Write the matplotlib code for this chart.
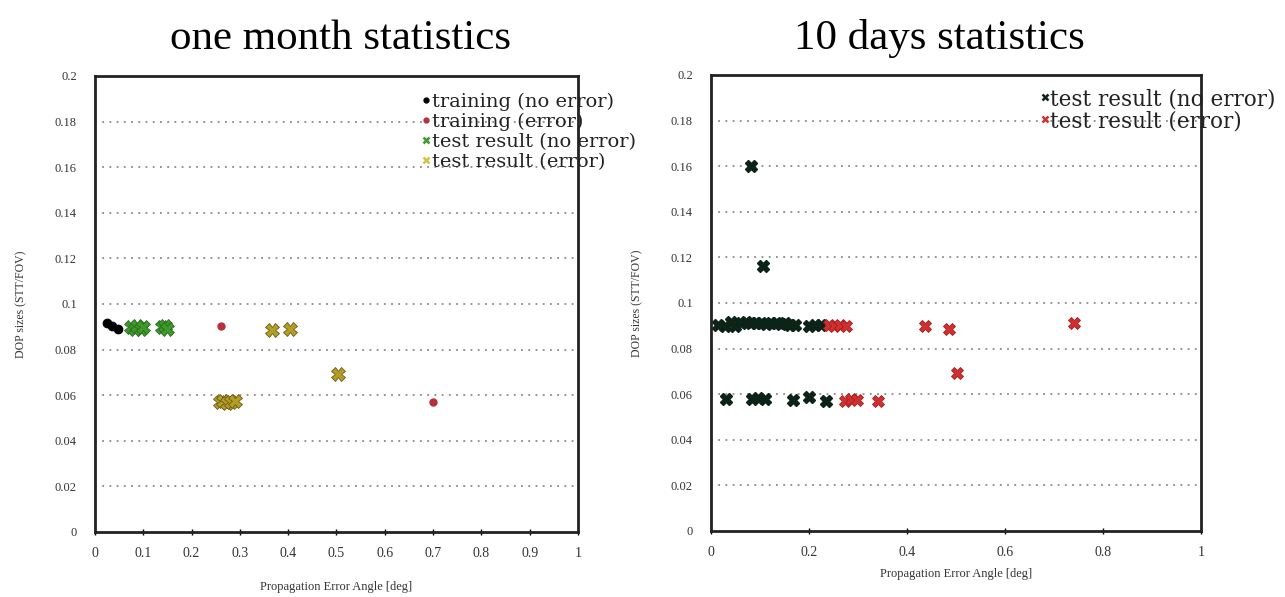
import matplotlib
matplotlib.use('Agg')
import matplotlib.pyplot as plt
from matplotlib.lines import Line2D

plt.rcParams['font.family'] = ['Liberation Serif', 'DejaVu Serif']

# one month statistics
train_ok_x = [0.025, 0.035, 0.048]
train_ok_y = [0.0915, 0.0905, 0.089]
train_err_x = [0.261, 0.70]
train_err_y = [0.0905, 0.057]
test_ok_x = [0.075, 0.082, 0.088, 0.095, 0.100, 0.138, 0.145, 0.150]
test_ok_y = [0.090, 0.089, 0.0905, 0.089, 0.090, 0.090, 0.0905, 0.089]
test_err_x = [0.258, 0.266, 0.274, 0.282, 0.290, 0.366, 0.404, 0.503]
test_err_y = [0.057, 0.0575, 0.0565, 0.057, 0.0575, 0.0888, 0.0892, 0.0692]

# 10 days statistics
ten_ok_x = [0.015, 0.028, 0.040, 0.050, 0.062, 0.072, 0.082, 0.092, 0.102, 0.112,
            0.122, 0.132, 0.142, 0.152, 0.162, 0.172, 0.200, 0.212, 0.224,
            0.082, 0.106,
            0.031, 0.084, 0.096, 0.110, 0.167, 0.200, 0.235]
ten_ok_y = [0.0905, 0.090, 0.0915, 0.090, 0.091, 0.0915, 0.091, 0.0912, 0.091, 0.0908,
            0.0912, 0.091, 0.0908, 0.091, 0.0905, 0.0905, 0.090, 0.0905, 0.0905,
            0.160, 0.116,
            0.058, 0.058, 0.0585, 0.058, 0.0575, 0.0588, 0.0572]
ten_err_x = [0.240, 0.252, 0.264, 0.276, 0.437, 0.486, 0.740, 0.502,
             0.274, 0.286, 0.298, 0.341]
ten_err_y = [0.0905, 0.090, 0.0905, 0.090, 0.0898, 0.0888, 0.0912, 0.0695,
             0.057, 0.0578, 0.0575, 0.057]

ytick_vals = [0, 0.02, 0.04, 0.06, 0.08, 0.1, 0.12, 0.14, 0.16, 0.18, 0.2]
ytick_labels = ['0', '0.02', '0.04', '0.06', '0.08', '0.1', '0.12', '0.14', '0.16', '0.18', '0.2']
xtick_left = [0, 0.1, 0.2, 0.3, 0.4, 0.5, 0.6, 0.7, 0.8, 0.9, 1]
xtick_left_labels = ['0', '0.1', '0.2', '0.3', '0.4', '0.5', '0.6', '0.7', '0.8', '0.9', '1']
xtick_right = [0, 0.2, 0.4, 0.6, 0.8, 1]
xtick_right_labels = ['0', '0.2', '0.4', '0.6', '0.8', '1']

GREEN = '#3f9a2c'
GOLD = '#b59e24'
RED_DOT = '#b8303c'
DARK = '#0c2418'
RED = '#d23030'

fig = plt.figure(figsize=(12.85, 5.97), dpi=100)
ax1 = fig.add_axes([0.0739, 0.1089, 0.3759, 0.7638])
ax2 = fig.add_axes([0.5533, 0.1106, 0.3813, 0.7638])


def style_axes(ax, xt, xtl):
    ax.set_xlim(0, 1)
    ax.set_ylim(0, 0.2)
    ax.set_yticks(ytick_vals)
    ax.set_yticklabels(ytick_labels)
    ax.set_xticks(xt)
    ax.set_xticklabels(xtl)
    for y in ytick_vals[1:-1]:
        ax.axhline(y, color='#8a8a8a', linestyle=(0, (1, 3)), linewidth=1.3, zorder=1)
    for s in ax.spines.values():
        s.set_linewidth(2)
        s.set_color('#222222')
        s.set_zorder(6)
    ax.tick_params(axis='y', length=0, pad=13, labelsize=9, labelcolor='#333333')
    ax.tick_params(axis='x', direction='inout', length=4, width=1, pad=9,
                   labelsize=10, labelcolor='#333333')
    ax.set_ylabel('DOP sizes (STT/FOV)', fontsize=8.5, color='#333333', labelpad=20)


style_axes(ax1, xtick_left, xtick_left_labels)
style_axes(ax2, xtick_right, xtick_right_labels)
ax1.set_xlabel('Propagation Error Angle [deg]', fontsize=9, color='#333333', labelpad=15)
ax2.set_xlabel('Propagation Error Angle [deg]', fontsize=9, color='#333333', labelpad=6)

ax1.plot(train_ok_x, train_ok_y, 'o', color='black', markersize=6, zorder=3)
ax1.plot(train_err_x, train_err_y, 'o', color=RED_DOT, markersize=5, zorder=3)
ax1.plot(test_ok_x, test_ok_y, 'X', color=GREEN, markeredgecolor='#2c6a20',
         markeredgewidth=0.6, markersize=10, linestyle='none', zorder=3)
ax1.plot(test_err_x, test_err_y, 'X', color=GOLD, markeredgecolor='#6a5a18',
         markeredgewidth=0.6, markersize=10, linestyle='none', zorder=3)

ax2.plot(ten_ok_x, ten_ok_y, 'X', color=DARK, markersize=9, linestyle='none', zorder=3)
ax2.plot(ten_err_x, ten_err_y, 'X', color=RED, markeredgecolor='#a02020',
         markeredgewidth=0.6, markersize=9, linestyle='none', zorder=3)

h1 = [Line2D([], [], marker='o', color='black', markersize=3.5, linestyle='none'),
      Line2D([], [], marker='o', color=RED_DOT, markersize=3.5, linestyle='none'),
      Line2D([], [], marker='x', color=GREEN, markersize=5, mew=1.8, linestyle='none'),
      Line2D([], [], marker='x', color='#d8c040', markersize=5, mew=1.8, linestyle='none')]
l1 = ['training (no error)', 'training (error)', 'test result (no error)', 'test result (error)']
leg1 = ax1.legend(h1, l1, loc='upper left', bbox_to_anchor=(0.658, 0.985), frameon=False,
                  borderpad=0, handlelength=0.4, handletextpad=0.1, labelspacing=0.1,
                  prop={'family': 'DejaVu Serif', 'size': 14})
leg1.set_zorder(4)
for t in leg1.get_texts():
    t.set_color('#222222')

h2 = [Line2D([], [], marker='x', color=DARK, markersize=5, mew=1.8, linestyle='none'),
      Line2D([], [], marker='x', color=RED, markersize=5, mew=1.8, linestyle='none')]
l2 = ['test result (no error)', 'test result (error)']
leg2 = ax2.legend(h2, l2, loc='upper left', bbox_to_anchor=(0.652, 0.995), frameon=False,
                  borderpad=0, handlelength=0.35, handletextpad=0.08, labelspacing=0.0,
                  prop={'family': 'DejaVu Serif', 'size': 15.5})
leg2.set_zorder(4)
for t in leg2.get_texts():
    t.set_color('#222222')

fig.text(340 / 1285, 1 - 39 / 597, 'one month statistics', ha='center', va='center', fontsize=31)
fig.text(939 / 1285, 1 - 38 / 597, '10 days statistics', ha='center', va='center', fontsize=31)

fig.savefig('out.png', dpi=100)
